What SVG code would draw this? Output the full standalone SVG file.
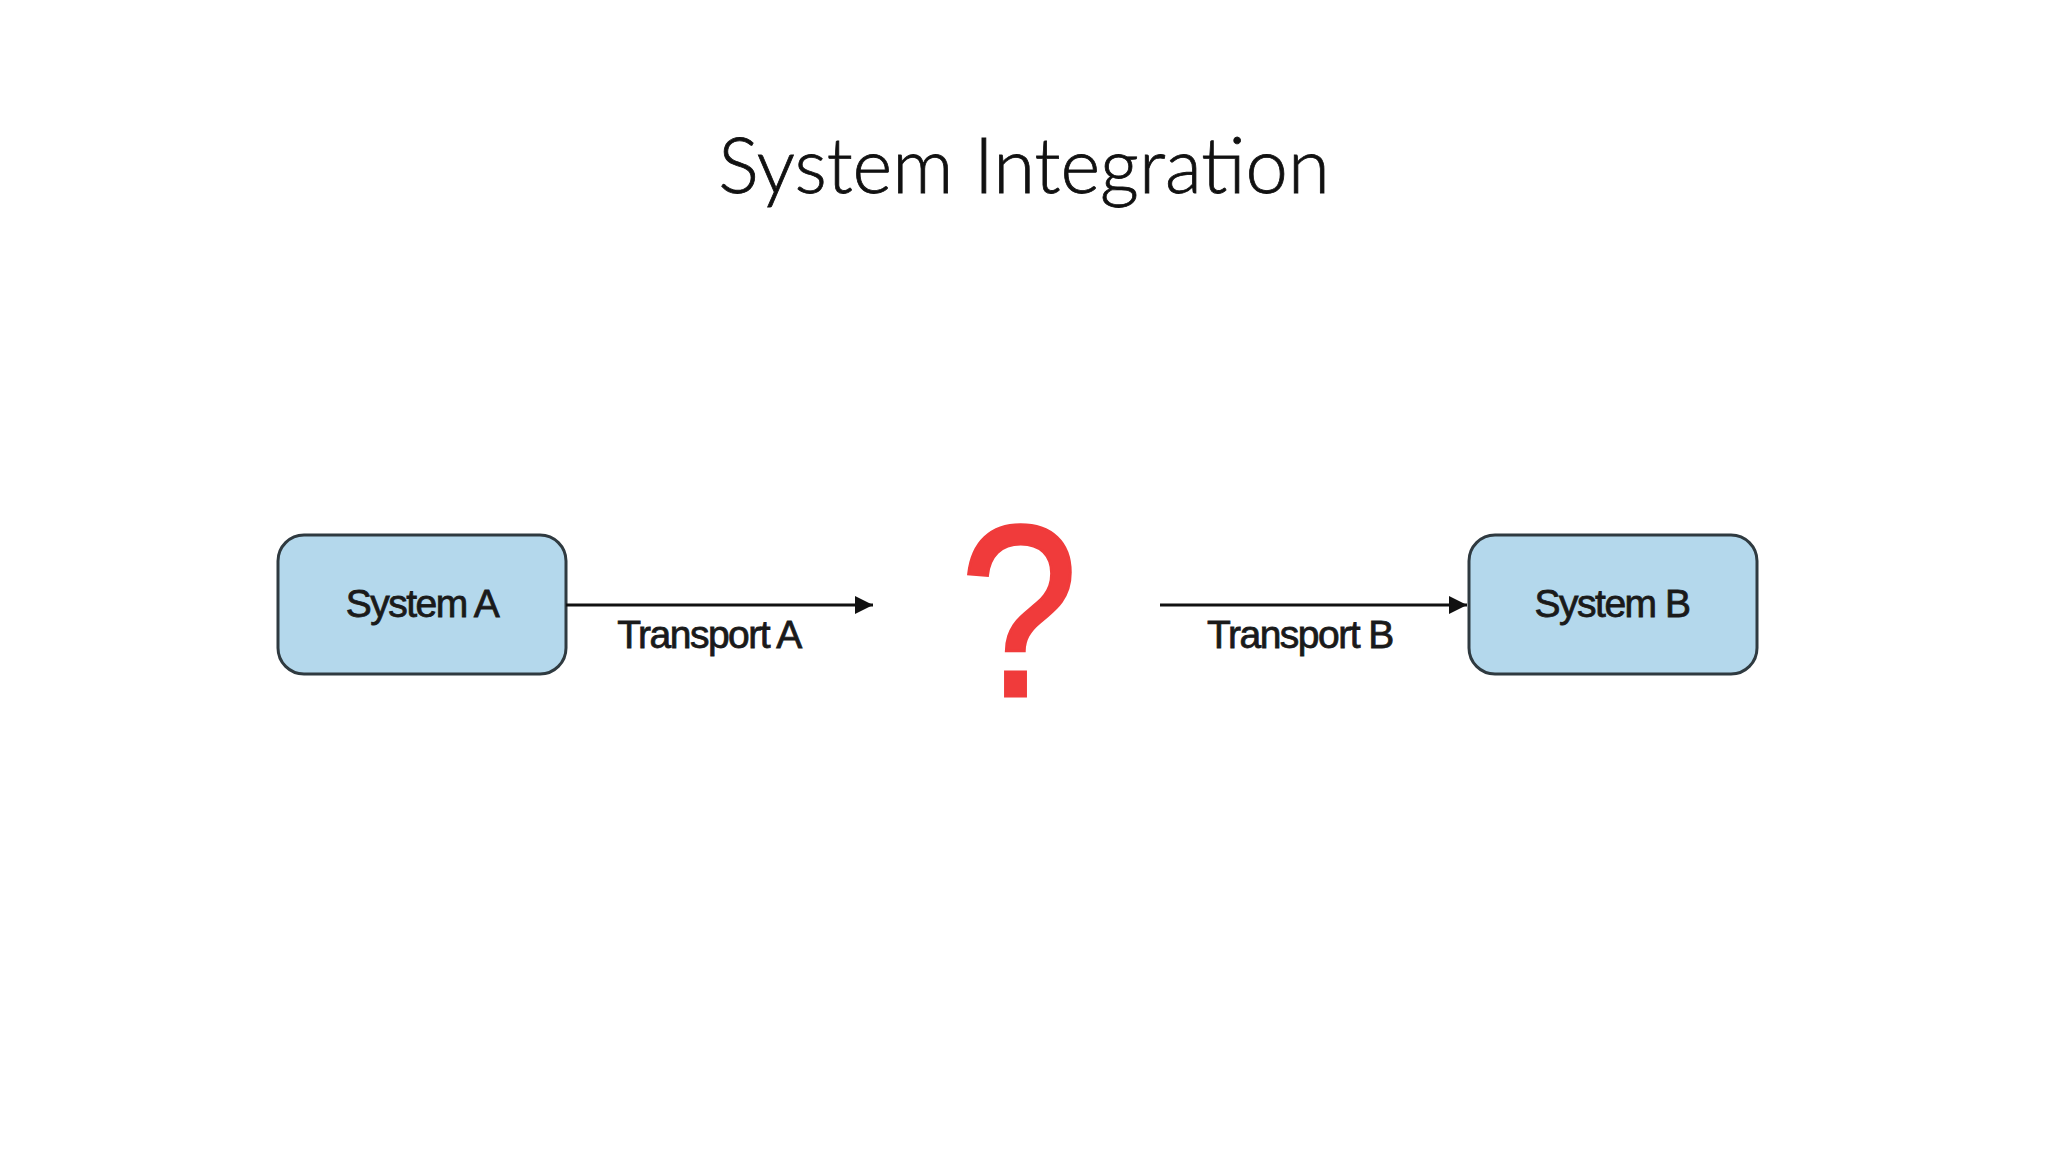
<svg xmlns="http://www.w3.org/2000/svg" width="2048" height="1152" viewBox="0 0 2048 1152">
<style>
.box{fill:#b4d8ec;stroke:#2f3a40;stroke-width:3}
.lbl{font-family:"Liberation Sans",Arial,sans-serif;font-size:39px;fill:#1a1a1a;text-anchor:middle;letter-spacing:-1.5px;stroke:#1a1a1a;stroke-width:0.8}
</style>
<defs><marker id="arr2" viewBox="0 0 10 10" refX="10" refY="5" markerWidth="32" markerHeight="18" markerUnits="userSpaceOnUse" orient="auto"><path d="M0,0 L10,5 L0,10 z" fill="#111"/></marker></defs>
<rect width="2048" height="1152" fill="#fff"/>
<text x="1024" y="193" font-family="Lato,'Open Sans',sans-serif" font-weight="300" font-size="76" fill="#111" stroke="#111" stroke-width="0.8" text-anchor="middle">System Integration</text>
<g id="systemA"><rect class="box" x="278" y="535" width="288" height="139" rx="26"/><text class="lbl" x="422" y="617">System A</text></g>
<g id="question"><text transform="translate(1019,696) scale(0.87,1)" x="0" y="0" font-family="'Liberation Sans',Arial,sans-serif" font-size="245" fill="#f03b3b" stroke="#f03b3b" stroke-width="3" text-anchor="middle">?</text></g>
<g id="systemB"><rect class="box" x="1469" y="535" width="288" height="139" rx="26"/><text class="lbl" x="1612" y="617">System B</text></g>
<g id="connectors">
<line x1="566" y1="605" x2="873" y2="605" stroke="#111" stroke-width="3" marker-end="url(#arr2)"/>
<text class="lbl" x="709" y="648">Transport A</text>
<line x1="1160" y1="605" x2="1467" y2="605" stroke="#111" stroke-width="3" marker-end="url(#arr2)"/>
<text class="lbl" x="1300" y="648">Transport B</text>
</g>
</svg>
